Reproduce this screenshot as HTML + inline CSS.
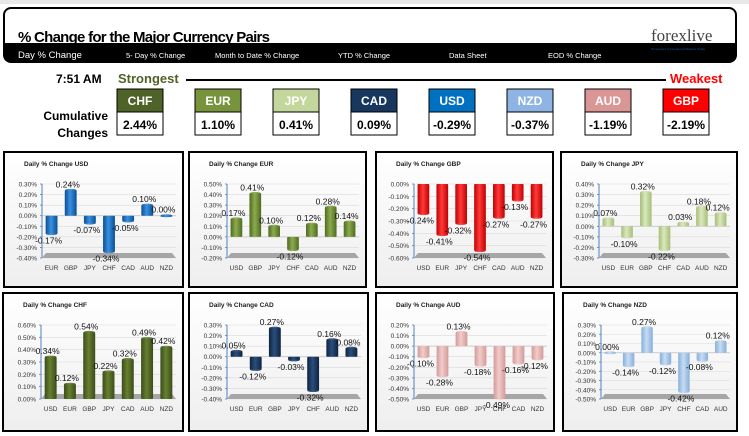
<!DOCTYPE html>
<html><head><meta charset="utf-8"><style>
body{margin:0;width:749px;height:436px;overflow:hidden;background:#fff;font-family:"Liberation Sans",sans-serif}
svg{display:block}
</style></head><body>
<svg id="s" width="749" height="436" xmlns="http://www.w3.org/2000/svg">
<defs></defs>
<rect x="0" y="0" width="749" height="4" fill="#e8e8e8"/>
<g>
<rect x="3" y="7" width="734" height="56" rx="8" fill="#000"/>
<rect x="5" y="9" width="730" height="34" rx="6" fill="#fff"/>
<rect x="5" y="30" width="730" height="13" fill="#fff"/>
<text x="18" y="42" font-size="15" font-weight="bold" font-family="Liberation Sans Narrow,Liberation Sans,sans-serif" textLength="252">% Change for the Major Currency Pairs</text>
<text x="651" y="41" font-size="17" font-family="Liberation Serif,serif" fill="#444">forexlive</text>
<text x="651" y="50" font-size="3" fill="#1f5fa0">Tomorrow's Conventional Wisdom Today</text>
<text x="18" y="58" font-size="9.5" fill="#fff">Day % Change</text>
<text x="126" y="58" font-size="7.5" fill="#fff">5- Day % Change</text>
<text x="215" y="58" font-size="7.5" fill="#fff">Month to Date % Change</text>
<text x="338" y="58" font-size="7.5" fill="#fff">YTD % Change</text>
<text x="449" y="58" font-size="7.5" fill="#fff">Data Sheet</text>
<text x="548" y="58" font-size="7.5" fill="#fff">EOD % Change</text>
</g>
<text x="56" y="83" font-size="12" font-weight="bold">7:51 AM</text>
<text x="118" y="83" font-size="13" font-weight="bold" fill="#4f6228">Strongest</text>
<rect x="186" y="79" width="480" height="2" fill="#000"/>
<text x="670" y="83" font-size="13" font-weight="bold" fill="#ff0000">Weakest</text>
<text x="108" y="120" font-size="12" font-weight="bold" text-anchor="end">Cumulative</text>
<text x="108" y="137" font-size="12" font-weight="bold" text-anchor="end">Changes</text>
<g id="boxes"></g>
<g id="charts"></g>
</svg>
<script>
var NS="http://www.w3.org/2000/svg";
var svg=document.getElementById('s');
function mk(t,a,p){var e=document.createElementNS(NS,t);for(var k in a)e.setAttribute(k,a[k]);(p||svg).appendChild(e);return e;}
var rankCur=["CHF","EUR","JPY","CAD","USD","NZD","AUD","GBP"];
var rankVal=["2.44%","1.10%","0.41%","0.09%","-0.29%","-0.37%","-1.19%","-2.19%"];
var rankCol=["#4f6228","#77933c","#c3d69b","#17375e","#0070c0","#8db4e2","#da9694","#ff0000"];
var bx=document.getElementById('boxes');
rankCur.forEach(function(c,i){
  var x=117+i*78;
  var g=mk('g',{},bx);
  
  
  mk('rect',{x:x,y:89,width:46,height:46,fill:'#fff',stroke:'#000','stroke-width':1},g);
  mk('rect',{x:x,y:89,width:46,height:23,fill:rankCol[i],stroke:'#000','stroke-width':1},g);
  var t=mk('text',{x:x+23,y:105,'font-size':12,'font-weight':'bold','text-anchor':'middle',fill:'#fff'},g);t.textContent=c;
  var v=mk('text',{x:x+23,y:129,'font-size':12,'font-weight':'bold','text-anchor':'middle',fill:'#000'},g);v.textContent=rankVal[i];
});
var usdCats=["EUR","GBP","JPY","CHF","CAD","AUD","NZD"], usdVals=[-0.17,0.24,-0.07,-0.34,-0.05,0.10,0.00], usdTicks=[-0.4,-0.3,-0.2,-0.1,0,0.1,0.2,0.3];
var eurCats=["USD","GBP","JPY","CHF","CAD","AUD","NZD"], eurVals=[0.17,0.41,0.10,-0.12,0.12,0.28,0.14], eurTicks=[-0.2,-0.1,0,0.1,0.2,0.3,0.4,0.5];
var gbpCats=["USD","EUR","JPY","CHF","CAD","AUD","NZD"], gbpVals=[-0.24,-0.41,-0.32,-0.54,-0.27,-0.13,-0.27], gbpTicks=[-0.6,-0.5,-0.4,-0.3,-0.2,-0.1,0];
var jpyCats=["USD","EUR","GBP","CHF","CAD","AUD","NZD"], jpyVals=[0.07,-0.10,0.32,-0.22,0.03,0.18,0.12], jpyTicks=[-0.3,-0.2,-0.1,0,0.1,0.2,0.3,0.4];
var chfCats=["USD","EUR","GBP","JPY","CAD","AUD","NZD"], chfVals=[0.34,0.12,0.54,0.22,0.32,0.49,0.42], chfTicks=[0,0.1,0.2,0.3,0.4,0.5,0.6];
var cadCats=["USD","EUR","GBP","JPY","CHF","AUD","NZD"], cadVals=[0.05,-0.12,0.27,-0.03,-0.32,0.16,0.08], cadTicks=[-0.4,-0.3,-0.2,-0.1,0,0.1,0.2,0.3];
var audCats=["USD","EUR","GBP","JPY","CHF","CAD","NZD"], audVals=[-0.10,-0.28,0.13,-0.18,-0.49,-0.16,-0.12], audTicks=[-0.5,-0.4,-0.3,-0.2,-0.1,0,0.1,0.2];
var nzdCats=["USD","EUR","GBP","JPY","CHF","CAD","AUD"], nzdVals=[0.00,-0.14,0.27,-0.12,-0.42,-0.08,0.12], nzdTicks=[-0.5,-0.4,-0.3,-0.2,-0.1,0,0.1,0.2,0.3];

var defs=svg.querySelector('defs');
function grad(id,c1,c2){var g=mk('linearGradient',{id:id,x1:0,y1:0,x2:1,y2:0},defs);
 mk('stop',{offset:'0','stop-color':c1},g);mk('stop',{offset:'0.45','stop-color':c2},g);mk('stop',{offset:'1','stop-color':c1},g);}
grad('gUSD','#0a4f94','#3a90e0');grad('gEUR','#4f6a22','#8cab4c');grad('gGBP','#c00000','#ff3a3a');
grad('gJPY','#a6bd78','#dbe8bd');grad('gCHF','#3c4c1c','#66802e');grad('gCAD','#0e2440','#2a4e7c');
grad('gAUD','#d29a98','#f2cccb');grad('gNZD','#86aedb','#c6dcf2');
var pg=mk('linearGradient',{id:'pbg',x1:0,y1:0,x2:0,y2:1},defs);
mk('stop',{offset:'0','stop-color':'#ffffff'},pg);mk('stop',{offset:'1','stop-color':'#eeeeef'},pg);

var charts=document.getElementById('charts');
function chart(name,cur,box,cats,vals,ticks,gid){
  var px=box[0],py=box[1],w=box[2],h=box[3];
  var g=mk('g',{},charts);
  
  
  mk('rect',{x:px,y:py,width:w,height:h,fill:'url(#pbg)',stroke:'#000','stroke-width':2},g);
  var tt=mk('text',{x:px+20,y:py+14,'font-size':6.5,'font-weight':'bold',fill:'#222'},g);tt.textContent='Daily % Change '+cur;
  
  var L=px+38,R=px+w-7,T=py+32,B=py+106;
  var mn=ticks[0],mx=ticks[ticks.length-1];
  function y(v){return B-(v-mn)/(mx-mn)*(B-T);}
  var band=(R-L)/cats.length;
  function x(i){return L+band*(i+0.5);}
  ticks.forEach(function(t){
    mk('line',{x1:L,x2:R,y1:y(t),y2:y(t),stroke:'#d9d9d9','stroke-width':0.6},g);
    var lb=mk('text',{x:L-5,y:y(t)+2.5,'font-size':6.5,'text-anchor':'end',fill:'#333'},g);
    lb.textContent=t.toFixed(2)+'%';
    
    mk('line',{x1:L-2,x2:L,y1:y(t),y2:y(t),stroke:'#4f81bd','stroke-width':0.8},g);
  });
  mk('line',{x1:L,x2:L,y1:T,y2:B,stroke:'#4f81bd','stroke-width':1},g);
  mk('polygon',{points:(L)+','+(B)+' '+(R)+','+(B)+' '+(R-4)+','+(B-5)+' '+(L+4)+','+(B-5),fill:'#a6a6a6'},g);
  if(mn<0&&mx>0)mk('line',{x1:L,x2:R,y1:y(0),y2:y(0),stroke:'#bfbfbf','stroke-width':0.8},g);
  var bw=band*0.62;
  vals.forEach(function(v,i){
    var y0=y(0),y1=y(v),top=Math.min(y0,y1),hh=Math.max(Math.abs(y1-y0),1);
    var b=mk('rect',{x:x(i)-bw/2,y:top,width:bw,height:hh,fill:'url(#'+gid+')',rx:1},g);
    
    
    mk('ellipse',{cx:x(i),cy:y1,rx:bw/2,ry:1.5,fill:'url(#'+gid+')',opacity:0.9},g);
    var vl=mk('text',{x:x(i)-3,y:v>=0?y1-3:y1+10,'font-size':8.5,'text-anchor':'middle',fill:'#111'},g);
    vl.textContent=v.toFixed(2)+'%';
    
    var cl=mk('text',{x:x(i),y:py+118,'font-size':6.5,'text-anchor':'middle',fill:'#333'},g);
    cl.textContent=cats[i];
    
  });
}
chart('usd','USD',[4,152,179,135],usdCats,usdVals,usdTicks,'gUSD');
chart('eur','EUR',[189,152,177,135],eurCats,eurVals,eurTicks,'gEUR');
chart('gbp','GBP',[376,152,177,135],gbpCats,gbpVals,gbpTicks,'gGBP');
chart('jpy','JPY',[561,152,176,135],jpyCats,jpyVals,jpyTicks,'gJPY');
chart('chf','CHF',[3,293,180,138],chfCats,chfVals,chfTicks,'gCHF');
chart('cad','CAD',[189,293,179,138],cadCats,cadVals,cadTicks,'gCAD');
chart('aud','AUD',[376,293,178,138],audCats,audVals,audTicks,'gAUD');
chart('nzd','NZD',[563,293,174,138],nzdCats,nzdVals,nzdTicks,'gNZD');
</script>
</body></html>
